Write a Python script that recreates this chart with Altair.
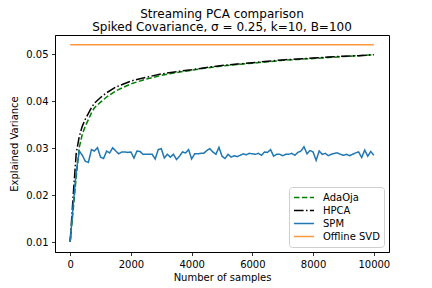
import altair as alt
import pandas as pd

# ---- data ----
spm_samples = list(range(0, 10001, 100))
spm_values = [
    0.0101, 0.0180, 0.0250, 0.0294, 0.0285, 0.0272, 0.0270, 0.0297, 0.0294, 0.0301,
    0.0281, 0.0278, 0.0294, 0.0290, 0.0301, 0.0294, 0.0288, 0.0292, 0.0292, 0.0291,
    0.0292, 0.0279, 0.0294, 0.0293, 0.0287, 0.0287, 0.0287, 0.0287, 0.0277, 0.0297,
    0.0299, 0.0279, 0.0287, 0.0281, 0.0287, 0.0276, 0.0283, 0.0292, 0.0290, 0.0297,
    0.0277, 0.0288, 0.0288, 0.0289, 0.0289, 0.0295, 0.0299, 0.0292, 0.0287, 0.0302,
    0.0283, 0.0278, 0.0287, 0.0281, 0.0284, 0.0282, 0.0285, 0.0288, 0.0286, 0.0289,
    0.0288, 0.0287, 0.0289, 0.0285, 0.0292, 0.0291, 0.0297, 0.0283, 0.0287, 0.0287,
    0.0284, 0.0287, 0.0287, 0.0289, 0.0285, 0.0291, 0.0294, 0.0303, 0.0288, 0.0295,
    0.0292, 0.0274, 0.0294, 0.0287, 0.0289, 0.0284, 0.0287, 0.0289, 0.0290, 0.0287,
    0.0285, 0.0287, 0.0284, 0.0287, 0.0290, 0.0292, 0.0280, 0.0296, 0.0283, 0.0293,
    0.0285,
]

curve_samples = [0, 100, 200, 300, 400, 500, 600, 700, 800, 1000, 1200, 1500, 2000,
                 2500, 3000, 3500, 4000, 4500, 5000, 5500, 6000, 6500, 7000, 7500,
                 8000, 8500, 9000, 9500, 10000]
hpca_values = [0.0101, 0.0200, 0.0290, 0.0325, 0.0347, 0.0362, 0.0374, 0.0386, 0.0396,
               0.0408, 0.0418, 0.0430, 0.0443, 0.0451, 0.0458, 0.0463, 0.0467, 0.0472,
               0.0476, 0.0479, 0.0482, 0.0485, 0.0488, 0.0490, 0.0492, 0.0494, 0.0496,
               0.0497, 0.0499]
adaoja_values = [0.0101, 0.0170, 0.0240, 0.0302, 0.0330, 0.0347, 0.0361, 0.0375, 0.0386,
                 0.0398, 0.0409, 0.0422, 0.0437, 0.0447, 0.0455, 0.0461, 0.0466, 0.0471,
                 0.0475, 0.0478, 0.0481, 0.0484, 0.0487, 0.0489, 0.0491, 0.0493, 0.0495,
                 0.0497, 0.0499]
svd_samples = [0, 10000]
svd_values = [0.0520, 0.0520]

methods = ["AdaOja", "HPCA", "SPM", "Offline SVD"]
colors = ["#008000", "#000000", "#1f77b4", "#ff983e"]
dashes = [[5.5, 2.4], [9.6, 2.4, 1.5, 2.4], [1, 0], [1, 0]]

rows = []
for s, v in zip(curve_samples, adaoja_values):
    rows.append({"samples": s, "value": v, "method": "AdaOja"})
for s, v in zip(curve_samples, hpca_values):
    rows.append({"samples": s, "value": v, "method": "HPCA"})
for s, v in zip(spm_samples, spm_values):
    rows.append({"samples": s, "value": v, "method": "SPM"})
for s, v in zip(svd_samples, svd_values):
    rows.append({"samples": s, "value": v, "method": "Offline SVD"})
df = pd.DataFrame(rows)

FONT = "DejaVu Sans"

x = alt.X("samples:Q",
          scale=alt.Scale(domain=[-500, 10500], nice=False, zero=False),
          axis=alt.Axis(values=[0, 2000, 4000, 6000, 8000, 10000], format="d",
                        title="Number of samples", titlePadding=3))
y = alt.Y("value:Q",
          scale=alt.Scale(domain=[0.0079, 0.0541], nice=False, zero=False),
          axis=alt.Axis(values=[0.01, 0.02, 0.03, 0.04, 0.05], format=".2f",
                        title="Explained Variance", titlePadding=6))
color = alt.Color("method:N",
                  scale=alt.Scale(domain=methods, range=colors),
                  legend=alt.Legend(title=None, orient="bottom-right", offset=5,
                                    symbolType="stroke", symbolSize=400,
                                    symbolStrokeWidth=1.5, labelFont=FONT,
                                    labelFontSize=10, labelColor="black",
                                    labelOffset=8, strokeColor="#cfcfcf",
                                    fillColor="white", cornerRadius=3,
                                    padding=4, rowPadding=0, clipHeight=13))
dash = alt.StrokeDash("method:N",
                      scale=alt.Scale(domain=methods, range=dashes),
                      legend=None)

layers = []
for m in methods:
    layers.append(
        alt.Chart(df).transform_filter(alt.datum.method == m)
        .mark_line(strokeWidth=1.5, clip=True)
        .encode(x=x, y=y, color=color, strokeDash=dash, order="samples:Q")
    )

chart = alt.layer(*layers).properties(
    width=334, height=217,
    title=alt.TitleParams(
        text=["Streaming PCA comparison",
              "Spiked Covariance,  σ = 0.25, k=10, B=100"],
        font=FONT, fontSize=12, fontWeight="normal", color="black",
        anchor="middle", offset=1.5, lineHeight=12.5),
    autosize=alt.AutoSizeParams(type="none"),
    padding={"left": 47, "top": 27, "right": 35, "bottom": 40},
).configure_view(
    stroke="black", strokeWidth=1
).configure_axis(
    labelFont=FONT, labelFontSize=10, labelColor="black",
    titleFont=FONT, titleFontSize=10, titleColor="black", titleFontWeight="normal",
    tickColor="black", tickSize=3.5, tickWidth=0.8, labelPadding=3.5,
    domainColor="black", domainWidth=0.8, grid=False
).configure_legend(
    labelFont=FONT
)

chart.save("out.html", embed_options={"renderer": "svg", "actions": False})
